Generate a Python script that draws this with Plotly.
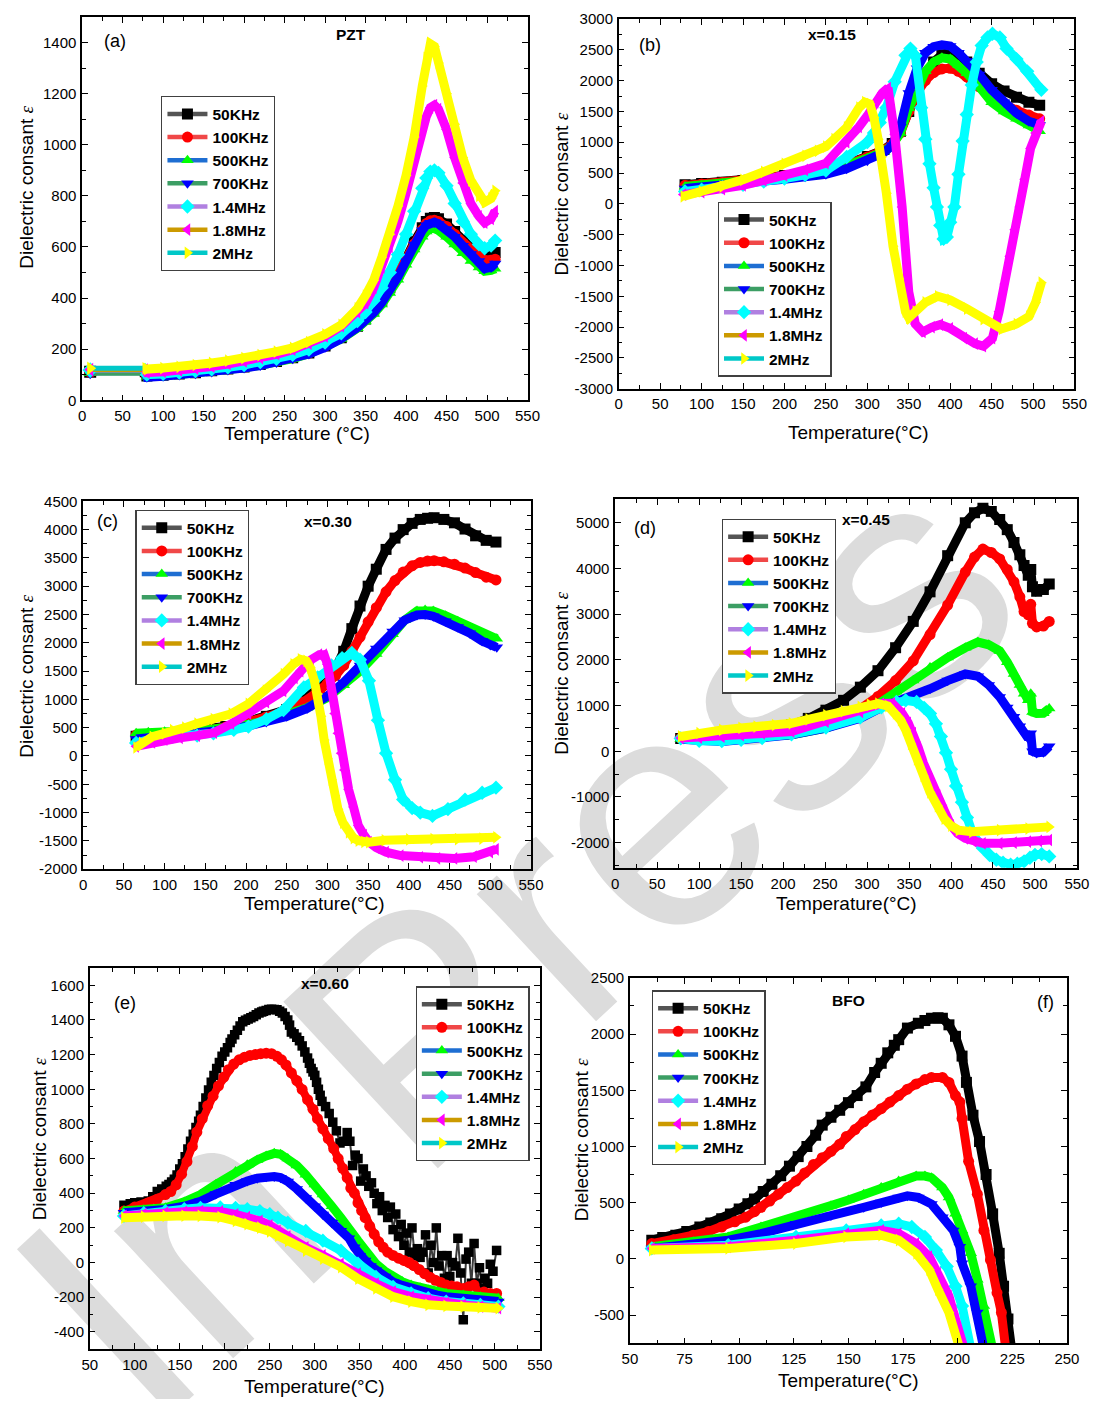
import plotly.graph_objects as go

FONT = "Liberation Sans, Arial, Helvetica, sans-serif"
PAGE_W, PAGE_H = 1105, 1407
OFF = 8  # default page margin around the figure
W, H = PAGE_W - 2 * OFF, PAGE_H - 2 * OFF

SERIES_NAMES = ["50KHz", "100KHz", "500KHz", "700KHz", "1.4MHz", "1.8MHz", "2MHz"]
MARKER_COLORS = ["#000000", "#ff0000", "#00ff00", "#0000ff", "#00ffff", "#ff00ff", "#ffff00"]
LINE_COLORS = ["#545454", "#f04848", "#1e6ed2", "#3c9e64", "#b080e0", "#cc9a00", "#00c8c8"]
SYMBOLS = ["square", "circle", "triangle-up", "triangle-down", "diamond", "triangle-left", "triangle-right"]

# ---------------- (a) PZT ----------------
A_X = [10, 78, 80, 100, 120, 140, 160, 180, 200, 220, 240, 260, 280, 300, 320, 340, 350, 360, 370, 380,
       390, 400, 410, 420, 425, 430, 435, 440, 450, 460, 470, 480, 490, 497, 505, 510]
A_50K = [112, 112, 95, 98, 103, 108, 115, 122, 130, 140, 152, 166, 185, 212, 245, 290, 318, 350, 390, 440,
         495, 555, 620, 675, 700, 712, 715, 710, 690, 660, 625, 598, 578, 565, 568, 578]
A_100K = [112, 112, 95, 98, 103, 108, 115, 122, 130, 140, 152, 166, 185, 212, 245, 290, 318, 350, 390, 440,
          495, 552, 612, 668, 692, 703, 705, 700, 680, 650, 615, 585, 563, 548, 548, 552]
A_500K = [108, 108, 92, 95, 100, 105, 112, 119, 127, 137, 149, 163, 182, 208, 240, 282, 308, 338, 375, 420,
          472, 530, 590, 640, 660, 672, 672, 665, 640, 610, 575, 545, 520, 505, 508, 515]
A_700K = [106, 106, 90, 94, 99, 104, 111, 118, 126, 136, 148, 162, 181, 207, 241, 285, 312, 343, 382, 428,
          483, 545, 610, 665, 685, 695, 697, 690, 670, 640, 605, 572, 545, 515, 520, 535]
A_1_4M = [118, 118, 100, 103, 108, 114, 121, 129, 138, 149, 162, 178, 198, 226, 262, 310, 345, 390, 440, 500,
          570, 650, 740, 830, 870, 895, 900, 890, 840, 770, 700, 650, 610, 595, 605, 625]
A_1_8M = [120, 120, 108, 112, 117, 124, 132, 142, 152, 165, 180, 198, 222, 250, 290, 345, 380, 440, 520, 600,
          700, 810, 930, 1060, 1110, 1145, 1155, 1140, 1060, 950, 850, 770, 720, 695, 710, 740]
A_2M = [125, 125, 122, 126, 131, 138, 146, 155, 165, 177, 190, 205, 228, 258, 295, 360, 410, 470, 560, 650,
        760, 880, 1030, 1230, 1340, 1395, 1385, 1320, 1200, 1080, 950, 860, 800, 775, 790, 820]

# ---------------- (b) x=0.15 ----------------
B_X = [80, 100, 125, 150, 175, 200, 225, 250, 275, 300, 320, 330, 340, 350, 360, 370, 380, 390, 400, 410,
       420, 435, 450, 465, 480, 495, 508]
B_50K = [310, 330, 350, 380, 420, 460, 510, 570, 650, 770, 880, 980, 1180, 1500, 1850, 2100, 2300, 2420, 2450, 2400,
         2300, 2120, 1950, 1830, 1730, 1650, 1600]
B_100K = [300, 320, 345, 375, 415, 455, 505, 560, 640, 760, 870, 970, 1150, 1500, 1800, 2000, 2130, 2190, 2200, 2150,
          2060, 1900, 1720, 1600, 1520, 1440, 1380]
B_500K = [280, 300, 330, 365, 405, 445, 495, 550, 625, 740, 850, 950, 1150, 1550, 1900, 2150, 2300, 2370, 2350, 2250,
          2120, 1900, 1650, 1500, 1380, 1270, 1180]
B_700K = [250, 270, 300, 330, 365, 400, 440, 480, 570, 700, 830, 950, 1250, 1800, 2200, 2450, 2550, 2580, 2560, 2450,
          2320, 2100, 1850, 1650, 1470, 1340, 1280]
B_1_4M_X = [80, 100, 125, 150, 175, 200, 225, 250, 275, 300, 308, 315, 323, 333, 346, 352, 358, 365, 370, 375,
            380, 384, 388, 392, 396, 400, 405, 410, 415, 420, 426, 432, 438, 445, 451, 460, 468, 480, 493, 510]
B_1_4M = [200, 230, 270, 310, 360, 410, 470, 540, 760, 1000, 1150, 1320, 1560, 1980, 2410, 2520, 2400, 1560, 1050, 650,
          260, -50, -350, -570, -540, -300, -50, 480, 1020, 1450, 1930, 2300, 2570, 2700, 2760, 2700, 2520, 2350, 2150, 1850]
B_1_8M_X = [78, 100, 125, 150, 175, 200, 225, 250, 275, 290, 300, 310, 318, 325, 333, 342, 350, 358, 367, 378,
            388, 400, 417, 430, 440, 451, 459, 466, 472, 478, 484, 490, 497, 503, 510]
B_1_8M = [150, 190, 240, 300, 380, 460, 550, 660, 1000, 1250, 1430, 1650, 1800, 1880, 1130, -50, -1430, -1950, -2080, -2000,
          -1960, -2020, -2180, -2270, -2310, -2180, -1750, -1300, -850, -420, -50, 400, 900, 1150, 1340]
B_2M_X = [78, 100, 125, 150, 175, 200, 225, 240, 250, 260, 275, 290, 297, 303, 308, 313, 317, 323, 331, 338,
          346, 350, 358, 370, 385, 400, 420, 440, 462, 480, 495, 503, 510]
B_2M = [120, 200, 280, 390, 520, 650, 780, 860, 930, 1050, 1240, 1560, 1650, 1620, 1400, 1050, 760, 170, -690, -1220,
        -1750, -1850, -1750, -1600, -1500, -1560, -1700, -1870, -2030, -1950, -1830, -1600, -1280]

# ---------------- (c) x=0.30 ----------------
C_X1 = [65, 80, 100, 125, 150, 175, 200, 225, 250, 270, 290, 300, 310, 320, 330, 340, 350, 360, 372, 383,
        393, 404, 414, 423, 431, 443, 456, 469, 482, 495, 507]
C_50K = [350, 370, 390, 420, 460, 520, 600, 700, 820, 980, 1200, 1330, 1550, 1850, 2250, 2650, 3000, 3300, 3650, 3850,
         4000, 4110, 4180, 4200, 4210, 4180, 4120, 4010, 3890, 3810, 3780]
C_100K = [370, 380, 395, 420, 455, 510, 590, 690, 800, 950, 1150, 1280, 1420, 1600, 1850, 2100, 2370, 2620, 2900, 3100,
          3250, 3360, 3420, 3445, 3450, 3430, 3390, 3320, 3240, 3160, 3110]
C_X2 = [65, 80, 100, 125, 150, 175, 200, 225, 250, 275, 300, 320, 340, 360, 380, 395, 410, 420, 430, 445,
        460, 475, 490, 500, 508]
C_500K = [400, 420, 430, 440, 460, 500, 550, 620, 720, 850, 1030, 1250, 1500, 1800, 2150, 2400, 2560, 2580, 2560, 2480,
          2380, 2270, 2160, 2100, 2070]
C_700K = [300, 320, 340, 370, 410, 460, 520, 600, 700, 840, 1060, 1300, 1600, 1900, 2200, 2400, 2490, 2500, 2470, 2380,
          2280, 2170, 2030, 1960, 1920]
C_1_4M_X = [65, 85, 110, 140, 160, 185, 203, 225, 246, 271, 288, 305, 318, 330, 340, 351, 362, 372, 383, 393,
            404, 414, 429, 448, 469, 490, 507]
C_1_4M = [230, 300, 340, 360, 400, 460, 520, 650, 810, 1210, 1390, 1600, 1730, 1820, 1700, 1330, 630, 50, -420, -770,
          -920, -1000, -1060, -940, -770, -650, -560]
C_1_8M_X = [65, 85, 100, 119, 140, 161, 182, 203, 225, 246, 260, 267, 280, 290, 296, 300, 305, 309, 313, 317,
            321, 326, 332, 338, 345, 351, 360, 372, 390, 414, 435, 456, 480, 500, 507]
C_1_8M = [170, 240, 290, 320, 360, 410, 570, 750, 950, 1150, 1380, 1500, 1700, 1790, 1790, 1620, 1200, 750, 400, 50,
          -250, -590, -900, -1230, -1400, -1520, -1620, -1700, -1760, -1790, -1810, -1810, -1780, -1700, -1650]
C_2M_X = [65, 72, 85, 100, 110, 125, 140, 160, 182, 203, 224, 246, 258, 267, 274, 279, 284, 288, 292, 296,
          300, 305, 309, 313, 319, 326, 332, 338, 345, 351, 370, 400, 430, 460, 490, 507]
C_2M = [150, 230, 340, 400, 456, 500, 572, 650, 747, 921, 1154, 1445, 1620, 1706, 1680, 1561, 1330, 1096, 700, 281,
        -50, -418, -700, -942, -1180, -1349, -1450, -1495, -1520, -1523, -1490, -1475, -1470, -1470, -1460, -1437]

# ---------------- (d) x=0.45 ----------------
D_X1 = [78, 100, 127, 150, 175, 210, 230, 251, 272, 292, 313, 334, 355, 375, 396, 417, 428, 438, 448, 458,
        467, 475, 482, 487, 492, 495, 497, 502, 510, 517]
D_50K = [280, 330, 380, 430, 490, 576, 719, 899, 1115, 1403, 1763, 2266, 2842, 3489, 4280, 5000, 5220, 5320, 5250, 5072,
         4850, 4568, 4300, 4065, 3850, 3980, 3600, 3500, 3540, 3660]
D_100K = [290, 330, 380, 430, 490, 560, 590, 640, 760, 930, 1200, 1547, 1978, 2554, 3201, 3921, 4250, 4424, 4350, 4209,
          3980, 3705, 3380, 3058, 2985, 3216, 2800, 2720, 2740, 2842]
D_X2 = [78, 100, 127, 150, 175, 210, 251, 292, 317, 335, 355, 375, 396, 417, 432, 445, 458, 467, 475, 482,
        487, 492, 495, 497, 502, 510, 517]
D_500K = [270, 250, 260, 290, 320, 360, 504, 760, 1080, 1300, 1547, 1834, 2050, 2266, 2390, 2330, 2194, 1950, 1691, 1450,
          1259, 1115, 1259, 860, 827, 830, 935]
D_700K = [260, 220, 216, 250, 290, 360, 504, 719, 960, 1080, 1187, 1367, 1547, 1691, 1640, 1450, 1187, 960, 755, 550,
          396, 280, 396, 0, -36, -20, 108]
D_1_4M_X = [78, 100, 127, 150, 175, 210, 251, 292, 317, 335, 346, 359, 368, 375, 382, 388, 394, 400, 406, 413,
            419, 425, 431, 438, 446, 454, 462, 471, 479, 487, 494, 500, 508, 517]
D_1_4M = [280, 230, 220, 250, 290, 370, 520, 740, 960, 1080, 1115, 1079, 950, 827, 600, 324, -30, -396, -760, -1115,
          -1450, -1763, -1960, -2122, -2270, -2374, -2440, -2482, -2460, -2410, -2330, -2266, -2250, -2302]
D_1_8M_X = [78, 100, 127, 150, 175, 210, 251, 292, 317, 330, 342, 349, 355, 361, 367, 375, 384, 392, 400, 408,
            417, 427, 438, 458, 475, 492, 505, 517]
D_1_8M = [288, 300, 320, 350, 390, 432, 647, 863, 1043, 1050, 827, 620, 396, 80, -252, -620, -971, -1300, -1619, -1800,
          -1906, -1970, -2014, -2014, -2000, -1978, -1960, -1942]
D_2M_X = [78, 100, 127, 150, 168, 190, 210, 230, 251, 272, 292, 303, 313, 325, 334, 340, 346, 352, 359, 367,
          375, 384, 392, 400, 409, 425, 458, 492, 517]
D_2M = [324, 400, 468, 510, 540, 575, 611, 700, 791, 880, 971, 1020, 1043, 990, 827, 680, 468, 160, -180, -540,
        -899, -1200, -1475, -1630, -1727, -1763, -1727, -1691, -1655]

# ---------------- (e) x=0.60 ----------------
E_50K_X = [88, 95, 100, 107, 115, 120, 125, 130, 135, 138, 141, 144, 147, 150, 153, 156, 159, 162, 165, 168,
           171, 173, 176, 179, 182, 185, 188, 191, 194, 197, 200, 203, 206, 208, 211, 214, 217, 220, 223, 226,
           229, 232, 235, 238, 241, 243, 246, 249, 252, 255, 258, 261, 264, 267, 270, 272, 274, 277, 280, 283,
           286, 289, 292, 294, 296, 298, 300, 302, 304, 306, 308, 312, 316, 320, 324, 328, 332, 336, 339, 342,
           345, 348, 351, 354, 357, 360, 363, 366, 369, 372, 375, 378, 381, 384, 387, 390, 393, 396, 399, 402,
           405, 408, 411, 414, 417, 420, 423, 426, 429, 432, 435, 438, 441, 444, 447, 450, 453, 456, 459, 462,
           465, 468, 471, 474, 477, 480, 483, 486, 489, 492, 495, 498, 502]
E_50K = [330, 340, 345, 350, 355, 380, 410, 425, 440, 450, 465, 480, 505, 540, 570, 610, 655, 700, 740, 780,
         815, 850, 900, 950, 995, 1040, 1080, 1120, 1155, 1190, 1215, 1240, 1270, 1290, 1315, 1340, 1365, 1390, 1398, 1405,
         1412, 1420, 1430, 1440, 1445, 1450, 1455, 1460, 1462, 1460, 1458, 1450, 1440, 1420, 1400, 1370, 1330, 1320, 1300, 1280,
         1250, 1215, 1180, 1150, 1120, 1100, 1080, 1040, 1000, 965, 930, 900, 860, 810, 760, 690, 700, 750, 700, 560,
         620, 600, 470, 540, 500, 440, 460, 400, 340, 380, 300, 330, 260, 320, 190, 280, 150, 220, 100, 170,
         60, 200, 40, 80, 30, 60, 160, -60, 100, 0, 200, -20, 40, -90, 40, -80, 0, -20, 140, -60,
         -330, 20, 60, -120, 110, -120, -30, -150, -90, -120, -10, -50, 70]
E_100K_X = [88, 100, 115, 125, 134, 140, 146, 152, 158, 164, 169, 175, 181, 187, 193, 199, 204, 210, 216, 222,
            228, 234, 240, 246, 252, 258, 263, 268, 274, 280, 286, 292, 298, 303, 309, 315, 321, 326, 331, 336,
            340, 344, 348, 352, 356, 361, 366, 371, 376, 381, 387, 393, 399, 405, 410, 416, 422, 428, 434, 440,
            446, 452, 458, 465, 471, 477, 483, 488, 495, 502]
E_100K = [297, 320, 344, 365, 392, 410, 449, 510, 582, 670, 753, 830, 905, 960, 1019, 1070, 1113, 1145, 1170, 1185,
          1195, 1200, 1205, 1208, 1205, 1190, 1170, 1140, 1094, 1050, 999, 940, 885, 830, 772, 715, 658, 600, 544, 490,
          430, 400, 344, 300, 259, 210, 164, 120, 88, 60, 41, 25, 12, 0, -17, -40, -64, -85, -102, -115,
          -130, -135, -140, -150, -140, -130, -178, -170, -178, -178]
E_500K_X = [88, 110, 134, 155, 173, 190, 212, 225, 236, 246, 255, 262, 270, 280, 290, 300, 309, 319, 329, 338,
            348, 358, 368, 378, 387, 397, 407, 417, 426, 436, 446, 465, 484, 504]
E_500K = [297, 305, 316, 350, 392, 450, 525, 565, 592, 615, 630, 625, 601, 560, 506, 450, 392, 325, 259, 190,
          126, 60, -7, -50, -83, -110, -130, -145, -159, -170, -178, -187, -197, -206]
E_700K_X = [88, 110, 134, 155, 173, 190, 212, 225, 236, 246, 255, 262, 270, 280, 290, 300, 309, 319, 329, 338,
            344, 350, 356, 362, 368, 378, 387, 397, 407, 417, 426, 436, 446, 465, 484, 504]
E_700K = [288, 295, 306, 325, 354, 395, 449, 470, 487, 495, 496, 490, 468, 425, 373, 325, 278, 230, 183, 140,
          88, 40, 12, -20, -45, -80, -112, -132, -149, -165, -178, -188, -197, -206, -215, -225]
E_X3 = [88, 110, 134, 155, 173, 195, 212, 225, 239, 250, 259, 270, 290, 309, 329, 348, 368, 387, 407, 426,
        446, 465, 484, 504]
E_1_4M = [269, 285, 297, 308, 316, 318, 316, 308, 297, 280, 259, 230, 183, 126, 69, -7, -83, -140, -178, -206,
          -225, -235, -245, -254]
E_1_8M = [269, 280, 288, 293, 297, 295, 278, 262, 240, 215, 183, 150, 88, 41, -7, -64, -121, -168, -197, -216,
          -232, -244, -254, -263]
E_2M = [259, 265, 269, 270, 269, 262, 240, 222, 202, 180, 155, 125, 69, 22, -26, -93, -149, -197, -225, -244,
        -250, -254, -259, -263]

# ---------------- (f) BFO ----------------
F_50K_X = [60, 65, 71, 76, 82, 87, 92, 96, 100, 104, 107, 111, 115, 119, 123, 127, 131, 135, 138, 142,
           146, 150, 154, 158, 162, 165, 168, 171, 173, 177, 182, 185, 188, 191, 193, 196, 199, 202, 204, 207,
           210, 213, 216, 219, 221, 223, 225]
F_50K = [167, 190, 211, 245, 284, 320, 357, 400, 444, 490, 532, 600, 664, 740, 825, 910, 1000, 1100, 1190, 1260,
         1322, 1390, 1453, 1530, 1658, 1740, 1833, 1900, 1950, 2053, 2096, 2120, 2140, 2145, 2140, 2082, 1980, 1804, 1570, 1278,
         1044, 751, 401, 50, -243, -535, -850]
F_100K_X = [60, 70, 79, 86, 92, 98, 103, 107, 110, 114, 118, 122, 126, 130, 134, 138, 142, 146, 149, 153,
            157, 161, 165, 169, 173, 177, 181, 185, 188, 193, 196, 199, 201, 202, 205, 209, 212, 215, 218, 220, 222]
F_100K = [137, 170, 211, 245, 284, 330, 371, 420, 459, 515, 576, 635, 693, 765, 839, 900, 956, 1020, 1088, 1150,
          1219, 1280, 1336, 1395, 1453, 1510, 1556, 1595, 1614, 1614, 1570, 1453, 1395, 1250, 868, 576, 254, -9, -301, -477, -800]
F_500K_X = [60, 79, 95, 110, 126, 142, 150, 157, 165, 173, 181, 185, 188, 193, 196, 199, 202, 206, 209, 212, 216]
F_500K = [108, 152, 196, 284, 371, 474, 525, 576, 635, 693, 737, 737, 722, 635, 547, 401, 254, 50, -184, -418, -800]
F_700K_X = [60, 79, 95, 110, 126, 142, 157, 165, 173, 177, 182, 188, 193, 198, 201, 202, 206, 209, 212]
F_700K = [94, 137, 167, 225, 313, 386, 459, 503, 547, 561, 547, 488, 371, 254, 108, -38, -243, -477, -800]
F_1_4M_X = [60, 95, 126, 149, 165, 173, 179, 185, 190, 195, 199, 202, 206]
F_1_4M = [94, 123, 196, 254, 298, 313, 284, 196, 79, -67, -243, -418, -800]
F_1_8M_X = [60, 95, 126, 149, 165, 173, 181, 187, 191, 196, 199, 203]
F_1_8M = [94, 108, 167, 225, 254, 225, 137, 20, -126, -330, -535, -800]
F_2M_X = [60, 95, 126, 149, 165, 173, 181, 187, 191, 196, 201]
F_2M = [79, 94, 137, 196, 211, 167, 50, -96, -272, -477, -800]

# ---------------- tick labels ----------------
T_0_550 = [0, 50, 100, 150, 200, 250, 300, 350, 400, 450, 500, 550]
T_50_550 = [50, 100, 150, 200, 250, 300, 350, 400, 450, 500, 550]
T_50_250 = [50, 75, 100, 125, 150, 175, 200, 225, 250]
A_YT = [0, 200, 400, 600, 800, 1000, 1200, 1400]
B_YT = [-3000, -2500, -2000, -1500, -1000, -500, 0, 500, 1000, 1500, 2000, 2500, 3000]
C_YT = [-2000, -1500, -1000, -500, 0, 500, 1000, 1500, 2000, 2500, 3000, 3500, 4000, 4500]
D_YT = [-2000, -1000, 0, 1000, 2000, 3000, 4000, 5000]
E_YT = [-400, -200, 0, 200, 400, 600, 800, 1000, 1200, 1400, 1600]
F_YT = [-500, 0, 500, 1000, 1500, 2000, 2500]


def px(xp):
    return min(max((xp - OFF) / W, 0), 1)


def py(yp):
    return min(max(1 - (yp - OFF) / H, 0), 1)


panels = [
    dict(box=(75.4, 529.6, 6, 396), xr=[0, 550], yr=[0, 1500], xt=T_0_550, xm=25, yt=A_YT, ym=100,
         series=[(A_X, A_50K), (A_X, A_100K), (A_X, A_500K), (A_X, A_700K), (A_X, A_1_4M), (A_X, A_1_8M), (A_X, A_2M)],
         legend=(156, 88), tag=("(a)", 108.7, 32.3), title=("PZT", 350, 25.7),
         xtitle=("Temperature (°C)", 295, 429.5), ytitle=(19, 180), lead=True),
    dict(box=(622.6, 1087.3, 10, 384.3), xr=[0, 550], yr=[-3000, 3000], xt=T_0_550, xm=25, yt=B_YT, ym=250,
         series=[(B_X, B_50K), (B_X, B_100K), (B_X, B_500K), (B_X, B_700K), (B_1_4M_X, B_1_4M), (B_1_8M_X, B_1_8M), (B_2M_X, B_2M)],
         legend=(723.5, 195), tag=("(b)", 654.4, 36.7), title=("x=0.15", 840.3, 25.7),
         xtitle=("Temperature(°C)", 867.5, 428.5), ytitle=(564, 187.5)),
    dict(box=(76.5, 533.1, 498.3, 870.7), xr=[0, 550], yr=[-2000, 4500], xt=T_0_550, xm=25, yt=C_YT, ym=250,
         series=[(C_X1, C_50K), (C_X1, C_100K), (C_X2, C_500K), (C_X2, C_700K), (C_1_4M_X, C_1_4M), (C_1_8M_X, C_1_8M), (C_2M_X, C_2M)],
         legend=(129.8, 507), tag=("(c)", 101.7, 518.3), title=("x=0.30", 326.2, 518.3),
         xtitle=("Temperature(°C)", 312.2, 905), ytitle=(19, 675)),
    dict(box=(619, 1089.8, 496, 869.3), xr=[0, 550], yr=[-2550, 5520], xt=T_0_550, xm=25, yt=D_YT, ym=500,
         series=[(D_X1, D_50K), (D_X1, D_100K), (D_X2, D_500K), (D_X2, D_700K), (D_1_4M_X, D_1_4M), (D_1_8M_X, D_1_8M), (D_2M_X, D_2M)],
         legend=(727.7, 516), tag=("(d)", 649.8, 525), title=("x=0.45", 875, 516.7),
         xtitle=("Temperature(°C)", 854.4, 905), ytitle=(564, 672.5)),
    dict(box=(83.2, 542.1, 970.7, 1356.7), xr=[50, 550], yr=[-500, 1700], xt=T_50_550, xm=25, yt=E_YT, ym=100,
         series=[(E_50K_X, E_50K), (E_100K_X, E_100K), (E_500K_X, E_500K), (E_700K_X, E_700K), (E_X3, E_1_4M), (E_X3, E_1_8M), (E_X3, E_2M)],
         legend=(415.4, 989.3), tag=("(e)", 119.6, 1006.7), title=("x=0.60", 323.2, 986.7),
         xtitle=("Temperature(°C)", 312.5, 1394), ytitle=(31.4, 1143.3), noisy=True),
    dict(box=(634, 1079.6, 980.7, 1350.7), xr=[50, 250], yr=[-750, 2500], xt=T_50_250, xm=12.5, yt=F_YT, ym=250,
         series=[(F_50K_X, F_50K), (F_100K_X, F_100K), (F_500K_X, F_500K), (F_700K_X, F_700K), (F_1_4M_X, F_1_4M), (F_1_8M_X, F_1_8M), (F_2M_X, F_2M)],
         legend=(656.3, 993.3), tag=("(f)", 1057.7, 1005), title=("BFO", 856.5, 1004),
         xtitle=("Temperature(°C)", 856.5, 1388), ytitle=(584.3, 1145)),
]

fig = go.Figure()
layout = dict(width=W, height=H, margin=dict(l=0, r=0, t=0, b=0, pad=0), paper_bgcolor="white",
              plot_bgcolor="white", showlegend=True, font=dict(family=FONT, color="black"))
annotations = []

for i, p in enumerate(panels, start=1):
    sfx = "" if i == 1 else str(i)
    xa, ya = "x" + sfx, "y" + sfx
    leg = "legend" + sfx
    for k, (xs, ys) in enumerate(p["series"]):
        mk = dict(symbol=SYMBOLS[k], color=MARKER_COLORS[k], line=dict(width=0))
        if p.get("lead"):
            # isolated first reading joined to the main sweep by the series' own line colour
            fig.add_trace(go.Scatter(x=xs[:2], y=ys[:2], mode="lines", xaxis=xa, yaxis=ya, showlegend=False,
                                     line=dict(color=LINE_COLORS[k], width=5), hoverinfo="skip"))
            fig.add_trace(go.Scatter(x=xs[:1], y=ys[:1], mode="markers", xaxis=xa, yaxis=ya, showlegend=False,
                                     marker=dict(mk, size=12), hoverinfo="skip"))
            xs, ys = xs[1:], ys[1:]
        lc, lw, ms = MARKER_COLORS[k], 9, 11
        if p.get("noisy") and k == 0:
            lc, lw, ms = "#3a3a3a", 2, 9.5
        elif p.get("noisy") and k == 1:
            lw, ms = 8, 11
        fig.add_trace(go.Scatter(x=xs, y=ys, mode="lines+markers", xaxis=xa, yaxis=ya, showlegend=False,
                                 line=dict(color=lc, width=lw), marker=dict(mk, size=ms), hoverinfo="skip"))
    for k in range(7):
        fig.add_trace(go.Scatter(x=[None], y=[None], mode="lines+markers", xaxis=xa, yaxis=ya,
                                 name=SERIES_NAMES[k], legend=leg, legendgroup=f"g{i}_{k}",
                                 line=dict(color=LINE_COLORS[k], width=4.5),
                                 marker=dict(symbol=SYMBOLS[k], size=11, color=MARKER_COLORS[k], line=dict(width=0))))
    x0, x1, y0, y1 = p["box"]
    common = dict(showline=True, linecolor="black", linewidth=1.5, mirror="ticks", ticks="inside", ticklen=6,
                  tickwidth=1.2, tickcolor="black", showgrid=False, zeroline=False,
                  tickfont=dict(family=FONT, size=15, color="black"), tickmode="array", ticklabelstandoff=1)
    layout["xaxis" + sfx] = dict(common, domain=[px(x0), px(x1)], anchor=ya, range=p["xr"],
                                 tickvals=p["xt"], ticktext=[str(v) for v in p["xt"]],
                                 minor=dict(ticks="inside", ticklen=4, tickwidth=1.2, tickcolor="black",
                                            tick0=p["xr"][0], dtick=p["xm"], showgrid=False))
    layout["yaxis" + sfx] = dict(common, domain=[py(y1), py(y0)], anchor=xa, range=p["yr"],
                                 tickvals=p["yt"], ticktext=[str(v) for v in p["yt"]],
                                 minor=dict(ticks="inside", ticklen=4, tickwidth=1.2, tickcolor="black",
                                            tick0=0, dtick=p["ym"], showgrid=False))
    lx, ly = p["legend"]
    layout[leg] = dict(x=px(lx), y=py(ly), xanchor="left", yanchor="top", bgcolor="white",
                       bordercolor="#404040", borderwidth=1.3, tracegroupgap=0, traceorder="grouped",
                       itemwidth=40,
                       font=dict(family=FONT, size=15.5, color="black", weight="bold"))
    t, tx, ty = p["tag"]
    annotations.append(dict(text=t, x=px(tx), y=py(ty), xref="paper", yref="paper", showarrow=False,
                            font=dict(family=FONT, size=18, color="black"), xanchor="center", yanchor="middle"))
    t, tx, ty = p["title"]
    annotations.append(dict(text=f"<b>{t}</b>", x=px(tx), y=py(ty), xref="paper", yref="paper", showarrow=False,
                            font=dict(family=FONT, size=15.5, color="black"), xanchor="center", yanchor="middle"))
    t, tx, ty = p["xtitle"]
    annotations.append(dict(text=t, x=px(tx), y=py(ty), xref="paper", yref="paper", showarrow=False,
                            font=dict(family=FONT, size=19, color="black"), xanchor="center", yanchor="middle"))
    tx, ty = p["ytitle"]
    annotations.append(dict(text="Dielectric consant <span style='font-family:Liberation Serif'><i>ε</i></span>",
                            x=px(tx), y=py(ty), xref="paper", yref="paper", showarrow=False, textangle=-90,
                            font=dict(family=FONT, size=19, color="black"), xanchor="center", yanchor="middle"))

layout["annotations"] = annotations
layout["shapes"] = [dict(type="line", xref="paper", yref="paper", layer="below",
                         x0=px(45), y0=py(1335), x1=px(945), y1=py(505),
                         line=dict(width=0, color="rgba(0,0,0,0)"),
                         label=dict(text="In Press", textposition="middle", yanchor="middle",
                                    font=dict(family=FONT, size=330, color="#dcdcdc")))]
fig.update_layout(**layout)
fig.write_html("out.html", config={"displayModeBar": False})
